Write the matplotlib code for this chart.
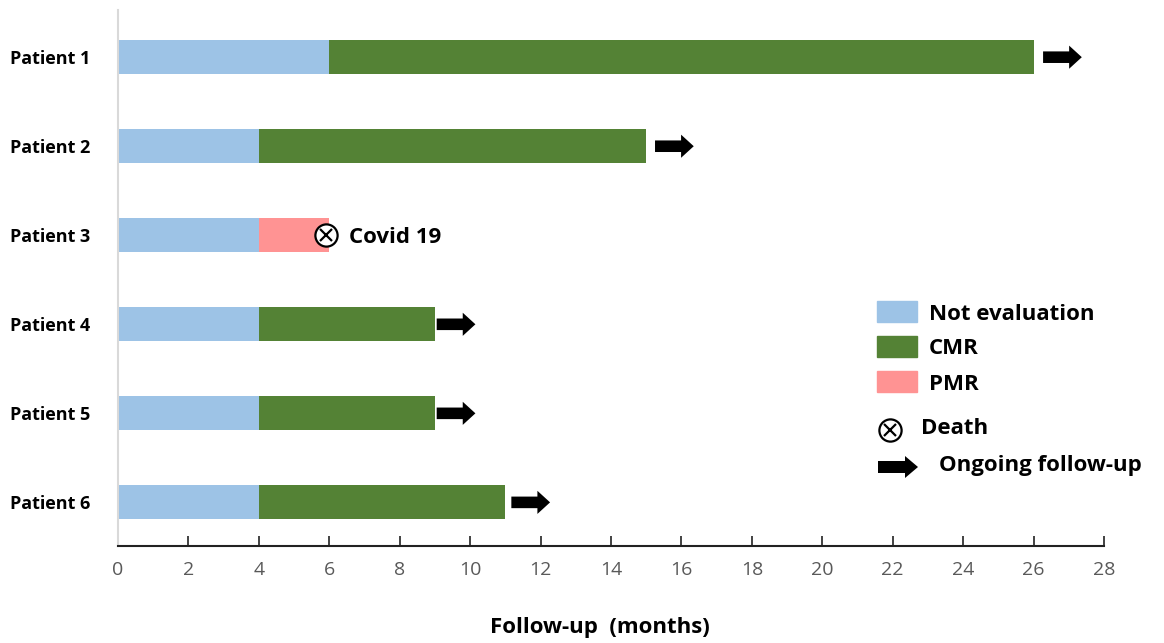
import matplotlib.pyplot as plt
from matplotlib.patches import Rectangle, FancyArrow
from matplotlib.lines import Line2D

plt.rcParams['font.family'] = ['Open Sans', 'DejaVu Sans']

patients = ['Patient 1', 'Patient 2', 'Patient 3', 'Patient 4', 'Patient 5', 'Patient 6']
not_eval = [6, 4, 4, 4, 4, 4]          # months not evaluated
response = [20, 11, 2, 5, 5, 7]        # months of CMR / PMR after that
resp_type = ['CMR', 'CMR', 'PMR', 'CMR', 'CMR', 'CMR']
ongoing = [True, True, False, True, True, True]
death_note = {2: 'Covid 19'}
xticks = list(range(0, 29, 2))

colors = {'Not evaluation': '#9dc3e6', 'CMR': '#548235', 'PMR': '#ff9393'}
arrow_gap = [0.27, 0.25, 0.0, 0.05, 0.05, 0.17]   # where each arrow sits after its bar

W, H = 1164, 643
fig = plt.figure(figsize=(W / 100, H / 100), dpi=100)
ax = fig.add_axes([118 / W, 1 - 546 / H, 986 / W, 536 / H])

y = list(range(len(patients)))
bh = 0.38
ax.barh(y, not_eval, height=bh, color=colors['Not evaluation'])
ax.barh(y, response, left=not_eval, height=bh, color=[colors[t] for t in resp_type])

for i in y:
    end = not_eval[i] + response[i]
    if ongoing[i]:
        ax.add_patch(FancyArrow(end + arrow_gap[i], i, 1.1, 0, width=0.13, head_width=0.26,
                                head_length=0.36, length_includes_head=True,
                                color='black', lw=0))
    if i in death_note:
        ax.plot(end - 0.1, i, marker='o', ms=16, mfc='white', mec='black', mew=1.6)
        ax.plot(end - 0.1, i, marker='x', ms=9, color='black', mew=1.6)
        ax.text(end + 0.55, i + 0.02, death_note[i], va='center', ha='left',
                fontsize=16, fontweight='bold')

ax.set_xlim(0, 28)
ax.set_ylim(5.49, -0.53)
ax.set_xticks(xticks)
ax.set_xticklabels([str(t) for t in xticks], fontsize=14, color='#595959',
                   family=['DejaVu Sans Condensed', 'Open Sans'])
ax.set_yticks(y)
ax.set_yticklabels(patients, fontsize=13, fontweight='bold')
ax.tick_params(axis='y', length=0, pad=20)
ax.tick_params(axis='x', direction='in', length=7, width=1.2, color='#222222', pad=11)
for s in ['top', 'right']:
    ax.spines[s].set_visible(False)
ax.spines['left'].set_color('#d9d9d9')
ax.spines['left'].set_linewidth(1.5)
ax.spines['bottom'].set_color('#222222')
ax.spines['bottom'].set_linewidth(1.5)

fig.text(600 / W, 1 - 628 / H, 'Follow-up  (months)', ha='center', va='center',
         fontsize=16, fontweight='bold')


# legend drawn by hand in pixel positions
def fx(px):
    return px / W


def fy(py):
    return 1 - py / H


for lab, top in [('Not evaluation', 301), ('CMR', 336), ('PMR', 371)]:
    fig.add_artist(Rectangle((fx(877), fy(top + 21)), 40 / W, 21 / H,
                             color=colors[lab], transform=fig.transFigure))
    fig.text(fx(929), fy(top + 13), lab, va='center', ha='left',
             fontsize=16, fontweight='bold')

fig.add_artist(Line2D([fx(890)], [fy(430)], marker='o', ms=16, mfc='white', mec='black',
                      mew=1.6, transform=fig.transFigure))
fig.add_artist(Line2D([fx(890)], [fy(430)], marker='x', ms=9, color='black',
                      mew=1.6, transform=fig.transFigure))
fig.text(fx(921), fy(429), 'Death', va='center', ha='left', fontsize=16, fontweight='bold')

fig.add_artist(FancyArrow(fx(878), fy(467), 40 / W, 0, width=12 / H, head_width=22 / H,
                          head_length=13 / W, length_includes_head=True, color='black',
                          lw=0, transform=fig.transFigure))
fig.text(fx(939), fy(465), 'Ongoing follow-up', va='center', ha='left',
         fontsize=16, fontweight='bold')

fig.savefig('out.png', dpi=100)
